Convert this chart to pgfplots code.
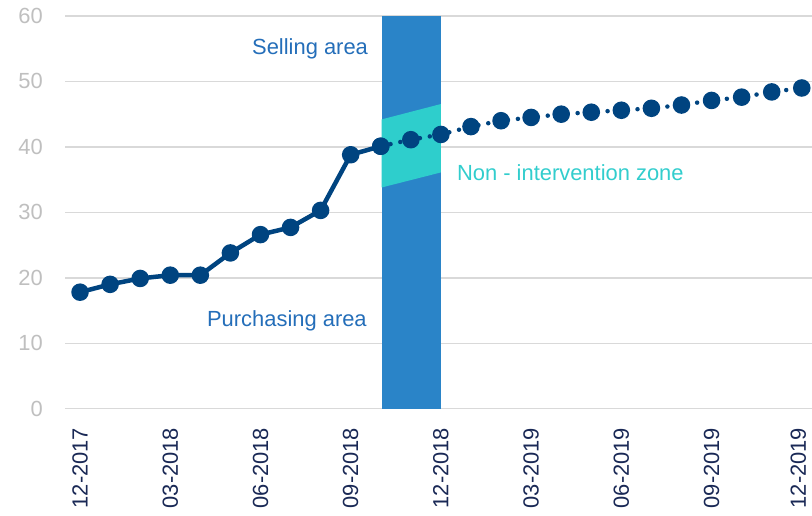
\documentclass[border=0pt]{standalone}
\usepackage{pgfplots}
\pgfplotsset{compat=1.18}
\usepackage{fontspec}
\setmainfont{Liberation Sans}
\definecolor{navy}{RGB}{0,68,128}
\definecolor{bandblue}{RGB}{42,132,200}
\definecolor{zonecyan}{RGB}{46,206,204}
\definecolor{txtblue}{RGB}{36,110,185}
\definecolor{txtcyan}{RGB}{50,205,205}
\definecolor{gridgray}{RGB}{217,217,217}
\definecolor{ylab}{RGB}{191,191,191}
\definecolor{xlab}{RGB}{25,40,85}
\begin{document}
\begin{tikzpicture}
\begin{axis}[
  scale only axis,
  width=747bp, height=392.7bp,
  xmin=-0.5, xmax=24.34,
  ymin=0, ymax=60,
  ytick={0,10,...,60},
  xtick={0,3,...,24},
  xticklabels={12-2017,03-2018,06-2018,09-2018,12-2018,03-2019,06-2019,09-2019,{12-2019\rule[-7bp]{0pt}{7bp}}},
  axis line style={draw=none},
  major tick length=0pt,
  ymajorgrids,
  grid style={gridgray, line width=1.5bp},
  /pgf/number format/assume math mode=true,
  tick label style={font=\fontsize{22}{24}\selectfont},
  yticklabel style={color=ylab, anchor=east, inner sep=0pt},
  yticklabel shift=22bp,
  xticklabel style={color=xlab, rotate=90, anchor=east, inner sep=0pt},
  xticklabel shift=19bp,
]
% selling/purchasing band
\addplot[fill=bandblue, draw=none] coordinates {(10.03,0) (12.0,0) (12.0,60) (10.03,60)};
% non-intervention zone
\addplot[fill=zonecyan, draw=none] coordinates {(10.03,33.8) (12.0,36.1) (12.0,46.55) (10.03,44.2)};
% actual
\addplot[navy, line width=4.5bp, line join=round, mark=*, mark size=6.5bp, mark options={fill=navy, draw=none}]
  coordinates {(0,17.8) (1,19.0) (2,19.9) (3,20.4) (4,20.4) (5,23.8) (6,26.6) (7,27.7) (8,30.3) (9,38.8) (10,40.1)};
% projected
\addplot[navy, line width=4.5bp, line cap=round, dash pattern=on 0pt off 10bp, mark=*, mark size=6.5bp, mark options={solid, fill=navy, draw=none}]
  coordinates {(10,40.1) (11,41.1) (12,41.9) (13,43.1) (14,44.0) (15,44.5) (16,45.0) (17,45.3) (18,45.6) (19,45.9) (20,46.4) (21,47.1) (22,47.6) (23,48.4) (24,49.0)};
\node[anchor=east, inner sep=0pt, text=txtblue, font=\fontsize{22}{24}\selectfont] at (axis cs:9.58,54.95) {Selling area};
\node[anchor=east, inner sep=0pt, text=txtblue, font=\fontsize{22}{24}\selectfont] at (axis cs:9.54,13.4) {Purchasing area};
\node[anchor=west, inner sep=0pt, text=txtcyan, font=\fontsize{22}{24}\selectfont] at (axis cs:12.53,36.0) {Non - intervention zone};
\end{axis}
\pgfresetboundingbox
\path[use as bounding box] ([shift={(-65bp,-107.3bp)}]current axis.south west) rectangle ([shift={(0bp,16bp)}]current axis.north east);
\end{tikzpicture}
\end{document}
